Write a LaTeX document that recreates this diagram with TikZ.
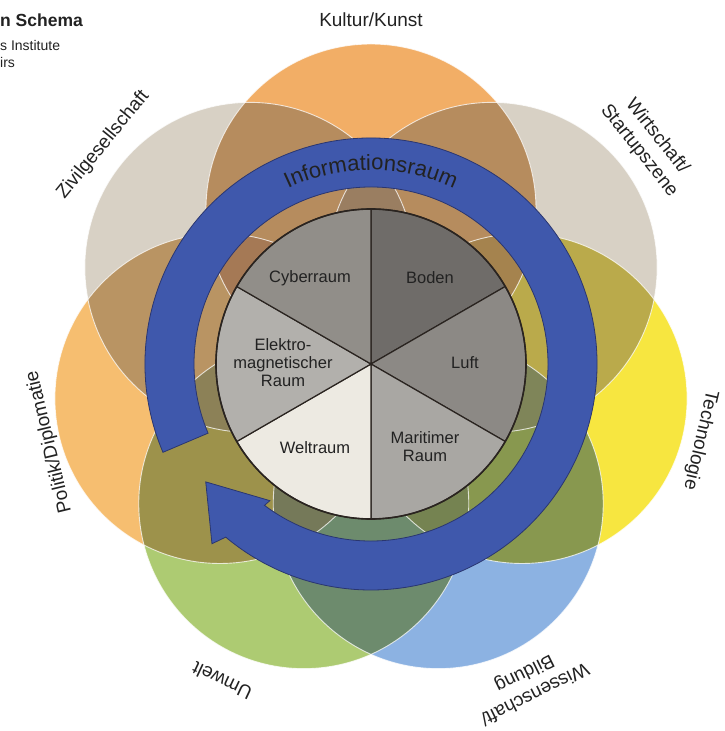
\documentclass[tikz,border=0pt]{standalone}
\usepackage{fontspec}
\setmainfont{Liberation Sans}
\usetikzlibrary{decorations.text}
\definecolor{kultur}{HTML}{F2AE66}
\definecolor{wirt}{HTML}{D8D1C5}
\definecolor{tech}{HTML}{F7E640}
\definecolor{wiss}{HTML}{8CB2E2}
\definecolor{umw}{HTML}{ADCB72}
\definecolor{pol}{HTML}{F6BE70}
\definecolor{ziv}{HTML}{D8D1C5}
\definecolor{overlap}{HTML}{8C8880}
\definecolor{ringblue}{HTML}{3F58AC}
\definecolor{ringedge}{HTML}{2A3670}
\definecolor{pieline}{HTML}{2A2420}
\definecolor{boden}{HTML}{6F6C69}
\definecolor{luft}{HTML}{8C8985}
\definecolor{mari}{HTML}{A9A7A3}
\definecolor{welt}{HTML}{EDEAE2}
\definecolor{elek}{HTML}{B2B0AC}
\definecolor{cyber}{HTML}{918E89}
\definecolor{txt}{HTML}{222222}
\newcommand\ringfont{\fontsize{22}{22}\selectfont}
\begin{document}
\begin{tikzpicture}[x=1pt,y=1pt,
  petal/.style={fill=#1, blend mode=multiply},
  overlapfill/.style={fill=overlap, fill opacity=0.33},
  petaledge/.style={draw=white, line width=0.9pt, opacity=0.75},
  slice/.style={draw=pieline, line width=1.2pt, fill=#1},
  slicelabel/.style={font=\fontsize{16.5}{18}\selectfont, text=txt, align=center, inner sep=0pt},
  outerlabel/.style={font=\fontsize{19}{23}\selectfont, text=txt, align=center, inner sep=0pt},
  headlabel/.style={text=txt, anchor=west, inner sep=0pt}
]
\useasboundingbox (-371,-367) rectangle (353,364);
\fill[white] (-371,-367) rectangle (353,364);

% petals
\foreach \a/\c in {90/kultur, 38.571/wirt, -12.857/tech, -64.286/wiss, -115.714/umw, -167.143/pol, 141.429/ziv}
  \fill[petal=\c] (\a:155) circle[radius=165];
% darker, greyer overlaps of neighbouring petals
\foreach \a/\b in {90/38.571, 38.571/-12.857, -12.857/-64.286, -64.286/-115.714, -115.714/-167.143, -167.143/141.429, 141.429/90}
{
  \begin{scope}
    \clip (\a:155) circle[radius=165];
    \fill[overlapfill] (\b:155) circle[radius=165];
  \end{scope}
}
\foreach \a in {90, 38.571, -12.857, -64.286, -115.714, -167.143, 141.429}
  \draw[petaledge] (\a:155) circle[radius=165];

% information ring
\fill[ringblue, draw=ringedge, line width=0.8pt]
  (203:177) -- (203:226) arc[start angle=203, end angle=-130, radius=226]
  -- (-131.5:240) -- (-144.5:203) -- (-126.5:170) -- (-127:177)
  arc[start angle=-127, end angle=203, radius=177] -- cycle;
\path[decorate, decoration={text along path, text align=center, text color=txt,
  text={|\ringfont|Informationsraum}}]
  (150:194) arc[start angle=150, end angle=30, radius=194];

% pie
\coordinate (c) at (0,0);
\foreach \s/\e/\c in {30/90/boden, -30/30/luft, -90/-30/mari, -150/-90/welt, 150/210/elek, 90/150/cyber}
  \filldraw[slice=\c] (c) -- (\s:155) arc[start angle=\s, end angle=\e, radius=155] -- cycle;
\draw[pieline, line width=1.6pt] (c) circle[radius=155];

\node[slicelabel] (cyb) at (-61,86) {Cyberraum};
\node[slicelabel] (bod) at (59,86) {Boden};
\node[slicelabel] (luf) at (94,1) {Luft};
\node[slicelabel] (ele) at (-88,1) {Elektro-\\magnetischer\\Raum};
\node[slicelabel] (wel) at (-56,-84) {Weltraum};
\node[slicelabel] (mar) at (54,-83) {Maritimer\\Raum};

% outer labels
\node[outerlabel] (lk) at (90:344) {Kultur/Kunst};
\node[outerlabel, rotate=-51.5] (lw) at (38.5:354) {Wirtschaft/\\Startupszene};
\node[outerlabel, rotate=-103] (lt) at (-13:338) {Technologie};
\node[outerlabel, rotate=-153.6] (lb) at (-63.6:356) {Wissenschaft/\\Bildung};
\node[outerlabel, rotate=154.8] (lu) at (-115.2:350) {Umwelt};
\node[outerlabel, rotate=103.6] (lp) at (-166.4:331) {Politik/Diplomatie};
\node[outerlabel, rotate=50.7] (lz) at (140.7:346) {Zivilgesellschaft};

% header fragments
\node[headlabel, font=\bfseries\fontsize{17.5}{20}\selectfont] (h1) at (-371,344) {n Schema};
\node[headlabel, font=\fontsize{14}{16}\selectfont] (h2) at (-371,319) {s Institute};
\node[headlabel, font=\fontsize{14}{16}\selectfont] (h3) at (-371,302) {irs};
\end{tikzpicture}
\end{document}
